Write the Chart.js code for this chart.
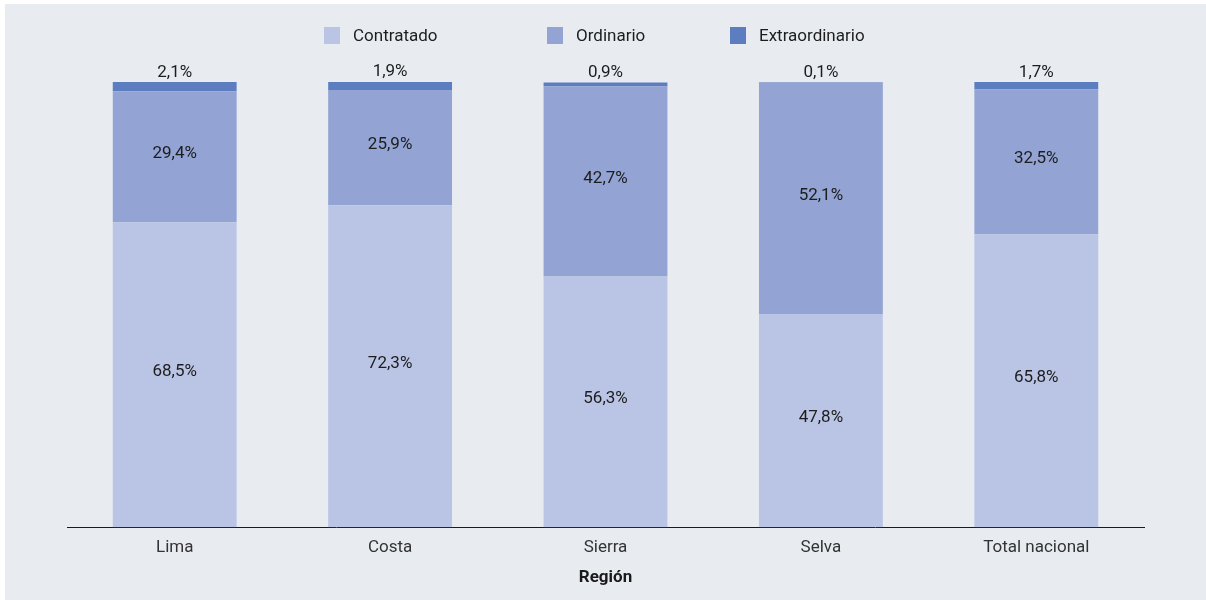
<!DOCTYPE html>
<html lang="es">
<head>
<meta charset="utf-8">
<title>Docentes por régimen según región</title>
<script src="https://cdn.jsdelivr.net/npm/chart.js@4.4.1/dist/chart.umd.min.js"></script>
<style>
  html, body { margin: 0; padding: 0; background: #ffffff; }
  .frame {
    position: absolute; left: 5px; top: 4px; width: 1201px; height: 596px;
    background: #e8ecf1; overflow: hidden;
  }
  #chart { position: absolute; left: 0; top: 0; }
  .legend { position: absolute; left: 0; top: 0; width: 100%; height: 60px; font: 17px Roboto, sans-serif; color: #1d1d1d; }
  .legend .item { position: absolute; top: 22px; display: flex; align-items: center; height: 18px; }
  .legend .item:nth-child(1) { left: 319px; }
  .legend .item:nth-child(2) { left: 542px; }
  .legend .item:nth-child(3) { left: 725px; }
  .legend .box { width: 16px; height: 17px; margin-right: 13px; }
</style>
</head>
<body>
<div class="frame">
  <canvas id="chart" width="1201" height="596"></canvas>
  <div class="legend" id="legend"></div>
</div>
<script>
(function () {
  'use strict';

  const regiones = ['Lima', 'Costa', 'Sierra', 'Selva', 'Total nacional'];
  const contratado = [68.5, 72.3, 56.3, 47.8, 65.8];
  const ordinario = [29.4, 25.9, 42.7, 52.1, 32.5];
  const extraordinario = [2.1, 1.9, 0.9, 0.1, 1.7];
  const seriesNames = ['Contratado', 'Ordinario', 'Extraordinario'];
  const seriesColors = ['#bac4e5', '#92a3d4', '#5c7ec1'];

  const formatPct = (value) => value.toFixed(1).replace('.', ',') + '%';

  // etiquetas de valor: dentro del segmento, o encima de la barra para la serie superior
  const valueLabels = {
    id: 'valueLabels',
    afterDatasetsDraw(chart) {
      const ctx = chart.ctx;
      ctx.save();
      ctx.font = '17px Roboto, sans-serif';
      ctx.fillStyle = '#1d1d1d';
      ctx.textAlign = 'center';
      chart.data.datasets.forEach((dataset, i) => {
        chart.getDatasetMeta(i).data.forEach((bar, j) => {
          const text = formatPct(dataset.data[j]);
          if (i === chart.data.datasets.length - 1) {
            ctx.textBaseline = 'bottom';
            ctx.fillText(text, bar.x, Math.min(bar.y, bar.base) - 1);
          } else {
            ctx.textBaseline = 'middle';
            ctx.fillText(text, bar.x, (bar.y + bar.base) / 2 - 3);
          }
        });
      });
      ctx.restore();
    }
  };

  const valores = [contratado, ordinario, extraordinario];

  document.getElementById('legend').innerHTML = seriesNames.map((name, i) => `
    <span class="item"><span class="box" style="background:${seriesColors[i]}"></span>${name}</span>
  `).join('');

  new Chart(document.getElementById('chart').getContext('2d'), {
    type: 'bar',
    data: {
      labels: regiones,
      datasets: seriesNames.map((name, i) => ({
        label: name,
        data: valores[i],
        backgroundColor: seriesColors[i],
        borderWidth: 0,
        barPercentage: 1,
        categoryPercentage: 0.575
      }))
    },
    options: {
      responsive: false,
      animation: false,
      layout: { padding: { top: 78, left: 62, right: 62, bottom: 12 } },
      plugins: {
        legend: { display: false },
        tooltip: { enabled: false }
      },
      scales: {
        x: {
          stacked: true,
          grid: { display: false, drawTicks: false },
          border: { display: true, color: '#1a1a1a', width: 1 },
          ticks: { color: '#333333', font: { family: 'Roboto', size: 17 }, padding: 10 },
          title: {
            display: true,
            text: 'Región',
            color: '#1a1a1a',
            font: { family: 'Roboto', size: 17, weight: 'bold' },
            padding: { top: 0, bottom: 0 }
          }
        },
        y: {
          stacked: true,
          display: false,
          min: 0,
          max: 100
        }
      }
    },
    plugins: [valueLabels]
  });
})();
</script>
</body>
</html>
